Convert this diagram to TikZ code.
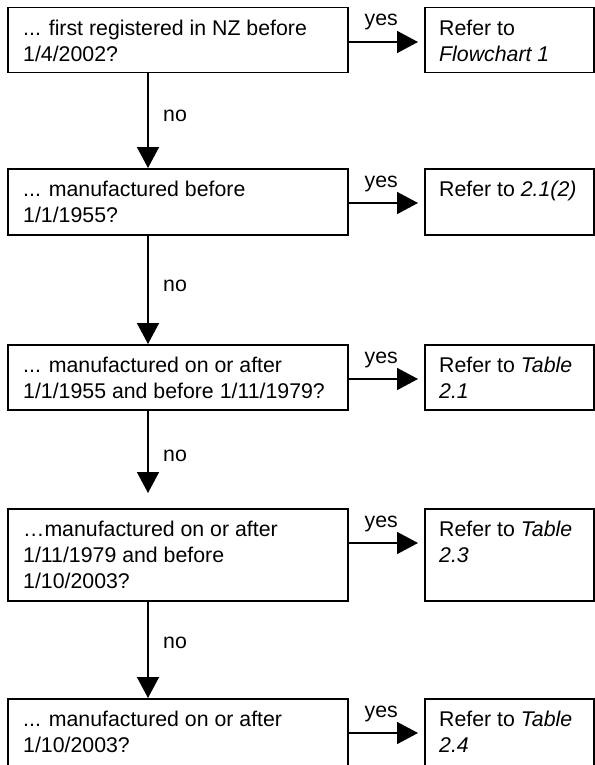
\documentclass[tikz,border=0pt]{standalone}
\usepackage{fontspec}
\setmainfont{Liberation Sans}
\usetikzlibrary{arrows.meta,calc}
\begin{document}
\begin{tikzpicture}[x=1pt,y=-1pt,
  box/.style={draw, line width=1.5pt, rectangle, inner sep=0pt, anchor=north west},
  lbox/.style={box, minimum width=340pt},
  rbox/.style={box, minimum width=169pt},
  txt/.style={anchor=north west, inner sep=0pt, align=left, font=\fontsize{21.3}{26}\selectfont},
  arr/.style={line width=1.7pt, -{Triangle[length=21pt,width=22pt]}},
  lbl/.style={inner sep=0pt, font=\fontsize{21.3}{26}\selectfont}]
\useasboundingbox (0,0) rectangle (594,765);

% boxes
\node[lbox, minimum height=65pt] (b1) at (7,7) {};
\node[rbox, minimum height=65pt] (r1) at (424,7) {};
\node[lbox, minimum height=66pt] (b2) at (7,168) {};
\node[rbox, minimum height=66pt] (r2) at (424,168) {};
\node[lbox, minimum height=65pt] (b3) at (7,344) {};
\node[rbox, minimum height=65pt] (r3) at (424,344) {};
\node[lbox, minimum height=92pt] (b4) at (7,508) {};
\node[rbox, minimum height=92pt] (r4) at (424,508) {};
\node[lbox, minimum height=72pt] (b5) at (7,698) {};
\node[rbox, minimum height=72pt] (r5) at (424,698) {};

% texts
\node[txt] (t1) at ($(b1.north west)+(16,13)$) {... first registered in NZ before\\1/4/2002?};
\node[txt] (t2) at ($(b2.north west)+(16,13)$) {... manufactured before\\1/1/1955?};
\node[txt] (t3) at ($(b3.north west)+(16,13)$) {... manufactured on or after\\1/1/1955 and before 1/11/1979?};
\node[txt] (t4) at ($(b4.north west)+(16,13)$) {…manufactured on or after\\1/11/1979 and before\\1/10/2003?};
\node[txt] (t5) at ($(b5.north west)+(16,13)$) {... manufactured on or after\\1/10/2003?};

\node[txt] (s1) at ($(r1.north west)+(15,13)$) {Refer to\\\textit{Flowchart 1}};
\node[txt] (s2) at ($(r2.north west)+(15,13)$) {Refer to \textit{2.1(2)}};
\node[txt] (s3) at ($(r3.north west)+(15,13)$) {Refer to \textit{Table}\\\textit{2.1}};
\node[txt] (s4) at ($(r4.north west)+(15,13)$) {Refer to \textit{Table}\\\textit{2.3}};
\node[txt] (s5) at ($(r5.north west)+(15,13)$) {Refer to \textit{Table}\\\textit{2.4}};

% yes arrows
\foreach \i in {1,...,5}{
  \draw[arr] ($(b\i.north east)+(0,35)$) -- ($(r\i.north west)+(-6,35)$);
  \node[lbl, anchor=base west] (y\i) at ($(b\i.north east)+(16,19)$) {yes};
}

% no arrows
\draw[arr] ($(b1.south west)+(141,0)$) -- ($(b2.north west)+(141,0)$);
\draw[arr] ($(b2.south west)+(141,0)$) -- ($(b3.north west)+(141,0)$);
\draw[arr] ($(b3.south west)+(141,0)$) -- ($(b4.north west)+(141,-15)$);
\draw[arr] ($(b4.south west)+(141,0)$) -- ($(b5.north west)+(141,0)$);

\node[lbl, anchor=west] (n1) at (163,116) {no};
\node[lbl, anchor=west] (n2) at (163,286) {no};
\node[lbl, anchor=west] (n3) at (163,456) {no};
\node[lbl, anchor=west] (n4) at (163,643) {no};
\end{tikzpicture}
\end{document}
